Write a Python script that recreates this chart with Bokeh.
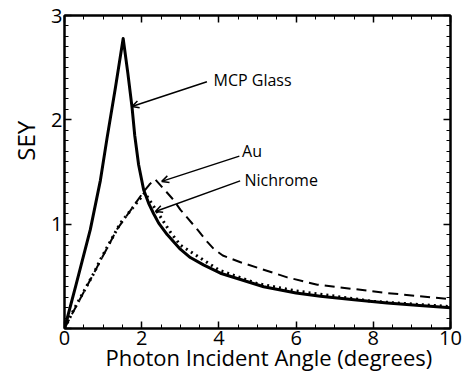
import math
from bokeh.plotting import figure
from bokeh.models import (Range1d, LinearAxis, SingleIntervalTicker, Label, Arrow, OpenHead)
from bokeh.embed import file_html
from bokeh.resources import INLINE

# ---- data ----
mcp_x = [0, 0.3, 0.67, 0.93, 1.1, 1.32, 1.52, 1.64, 1.75, 1.82, 1.92, 2.05, 2.18, 2.31, 2.44, 2.66,
         3.0, 3.26, 3.6, 4.04, 4.56, 5.16, 6.0, 6.63, 7.5, 8.36, 9.2, 10]
mcp_y = [0, 0.42, 0.95, 1.42, 1.82, 2.31, 2.78, 2.45, 2.12, 1.85, 1.57, 1.33, 1.20, 1.10, 1.01, 0.90,
         0.76, 0.68, 0.61, 0.53, 0.47, 0.40, 0.34, 0.31, 0.275, 0.245, 0.22, 0.20]

au_x = [0, 0.24, 0.76, 1.36, 2.05, 2.2, 2.35, 2.83, 3.0, 3.44, 3.7, 3.86, 4.1, 4.56, 5.77, 6.55, 8.36, 10]
au_y = [0, 0.17, 0.53, 0.95, 1.31, 1.38, 1.43, 1.23, 1.14, 0.95, 0.83, 0.765, 0.70, 0.635, 0.49, 0.42, 0.34, 0.28]

ni_x = [0, 0.24, 0.76, 0.93, 1.36, 1.45, 1.75, 2.08, 2.31, 2.75, 3.0, 4.0, 5.0, 6.0, 8.0, 10]
ni_y = [0, 0.18, 0.53, 0.66, 0.95, 1.01, 1.15, 1.30, 1.17, 0.92, 0.80, 0.56, 0.43, 0.36, 0.26, 0.21]

x_ticks = [0, 2, 4, 6, 8, 10]
y_ticks = [0, 1, 2, 3]
x_title = "\u00a0\u00a0\u00a0\u00a0Photon Incident Angle (degrees)"
y_title = "\u00a0" * 10 + "SEY"
labels = ["MCP Glass", "Au", "Nichrome"]
label_x = [3.86, 4.60, 4.66]
label_y = [2.38, 1.70, 1.42]
arrow_start_x = [3.69, 4.53, 4.55]
arrow_start_y = [2.365, 1.652, 1.415]
arrow_end_x = [1.746, 2.52, 2.355]
arrow_end_y = [2.127, 1.41, 1.122]

FONT = "Open Sans"

p = figure(width=471, height=374, output_backend="svg", toolbar_location=None,
           x_range=Range1d(0, 10), y_range=Range1d(0, 3),
           x_axis_type=None, y_axis_type=None,
           min_border_left=64, min_border_right=21, min_border_top=15, min_border_bottom=45)
p.grid.visible = False
p.outline_line_color = "black"
p.outline_line_width = 2
p.background_fill_color = "white"
p.border_fill_color = "white"

def make_axis(kind, show_labels):
    if kind == "x":
        tk = SingleIntervalTicker(interval=2, num_minor_ticks=4)
    else:
        tk = SingleIntervalTicker(interval=1, num_minor_ticks=10)
    ax = LinearAxis(ticker=tk)
    ax.axis_line_color = "black"
    ax.axis_line_width = 2
    ax.major_tick_in = 7
    ax.major_tick_out = 0
    ax.minor_tick_in = 4
    ax.minor_tick_out = 0
    ax.major_tick_line_width = 1.5
    ax.minor_tick_line_width = 1
    ax.major_tick_line_color = "black"
    ax.minor_tick_line_color = "black"
    if show_labels:
        ax.major_label_text_font = FONT
        ax.major_label_text_font_size = "20px"
        ax.major_label_text_color = "black"
        ax.major_label_standoff = 2
        ax.axis_label_text_font = FONT
        ax.axis_label_text_font_style = "normal"
        ax.axis_label_text_color = "black"
    else:
        ticks = x_ticks if kind == "x" else y_ticks
        ax.major_label_overrides = {t: "" for t in ticks}
        ax.major_label_text_font_size = "1px"
        ax.major_label_standoff = 0
    return ax

bx = make_axis("x", True)
bx.axis_label = x_title
bx.axis_label_text_font_size = "22px"
bx.axis_label_standoff = -6
ly = make_axis("y", True)
ly.major_label_overrides = {0: ""}
ly.axis_label = y_title
ly.axis_label_text_font_size = "24px"
ly.axis_label_standoff = 6
tx = make_axis("x", False)
ry = make_axis("y", False)
p.add_layout(bx, "below")
p.add_layout(ly, "left")
p.add_layout(tx, "above")
p.add_layout(ry, "right")

p.line(au_x, au_y, line_color="black", line_width=2, line_dash="10 6")
p.line(ni_x, ni_y, line_color="black", line_width=3, line_dash="2 4")
p.line(mcp_x, mcp_y, line_color="black", line_width=3, line_join="round")

for i in range(3):
    p.add_layout(Arrow(x_start=arrow_start_x[i], y_start=arrow_start_y[i],
                       x_end=arrow_end_x[i], y_end=arrow_end_y[i],
                       line_color="black", line_width=1.5,
                       end=OpenHead(size=7, line_width=1.5, line_color="black")))
    p.add_layout(Label(x=label_x[i], y=label_y[i], text=labels[i],
                       text_font=FONT, text_font_size="16px", text_color="black",
                       text_baseline="middle", text_align="left"))

open("out.html", "w").write(file_html(p, INLINE))
